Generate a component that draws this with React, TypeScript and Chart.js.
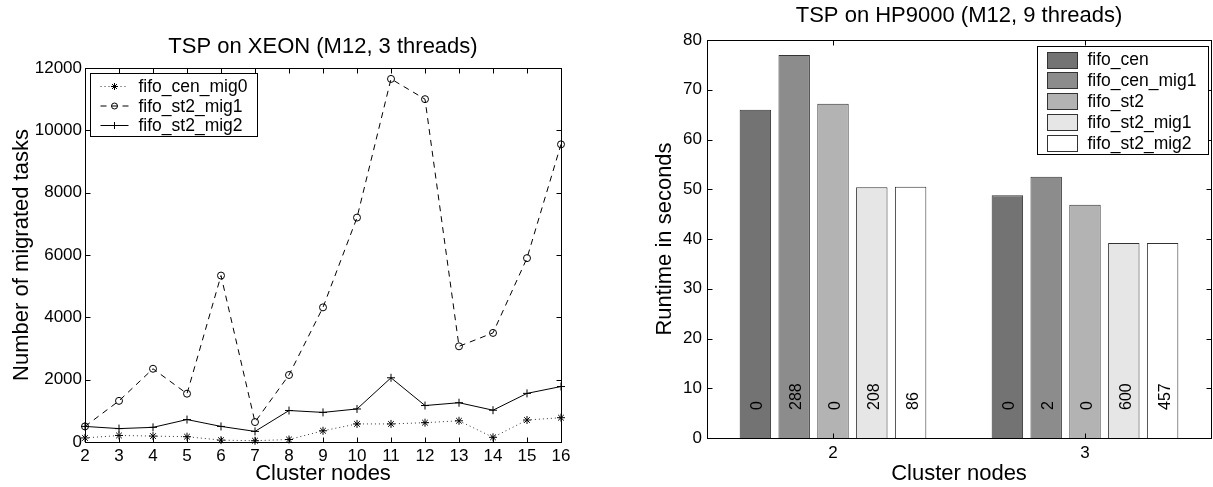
import React, { useEffect, useRef } from 'react';
import { Chart, registerables } from 'chart.js';

Chart.register(...registerables);

// ---------- Data: left chart (TSP on XEON) ----------
const nodes = [2, 3, 4, 5, 6, 7, 8, 9, 10, 11, 12, 13, 14, 15, 16];
const fifoCenMig0 = [130, 210, 190, 170, 60, 40, 80, 360, 580, 580, 620, 680, 150, 705, 780];
const fifoSt2Mig1Tasks = [500, 1320, 2350, 1550, 5340, 640, 2150, 4320, 7200, 11650, 11000, 3070, 3500, 5900, 9550];
const fifoSt2Mig2Tasks = [500, 430, 470, 720, 500, 340, 1010, 950, 1060, 2060, 1170, 1260, 1020, 1560, 1780];

// ---------- Data: right chart (TSP on HP9000) ----------
const clusterNodes = ['2', '3'];
const fifoCen = [66.0, 48.8];
const fifoCenMig1 = [77.0, 52.5];
const fifoSt2 = [67.2, 46.9];
const fifoSt2Mig1 = [50.4, 39.2];
const fifoSt2Mig2 = [50.5, 39.2];
// migrated task counts printed inside bars
const fifoCenMigrations = [0, 0];
const fifoCenMig1Migrations = [288, 2];
const fifoSt2Migrations = [0, 0];
const fifoSt2Mig1Migrations = [208, 600];
const fifoSt2Mig2Migrations = [86, 457];

const FONT = '"Liberation Sans", Arial, Helvetica, sans-serif';

Chart.defaults.font.family = FONT;
Chart.defaults.color = '#000';

function drawMarker(ctx: CanvasRenderingContext2D, style: string, x: number, y: number, r: number) {
  ctx.beginPath();
  if (style === 'circle') {
    ctx.arc(x, y, r, 0, Math.PI * 2);
  } else if (style === 'cross') {
    ctx.moveTo(x - r, y); ctx.lineTo(x + r, y);
    ctx.moveTo(x, y - r); ctx.lineTo(x, y + r);
  } else if (style === 'star') {
    ctx.moveTo(x - r, y); ctx.lineTo(x + r, y);
    ctx.moveTo(x, y - r); ctx.lineTo(x, y + r);
    const d = r * 0.7071;
    ctx.moveTo(x - d, y - d); ctx.lineTo(x + d, y + d);
    ctx.moveTo(x - d, y + d); ctx.lineTo(x + d, y - d);
  }
  ctx.stroke();
}

// MATLAB-like frame with inward ticks on all four sides
const framePlugin = {
  id: 'matlabFrame',
  afterDatasetsDraw(chart: any) {
    const { ctx, chartArea: a, scales } = chart;
    const len = 5;
    const L = Math.round(a.left) + 0.5, R = Math.round(a.right) + 0.5;
    const T = Math.round(a.top) + 0.5, B = Math.round(a.bottom) + 0.5;
    ctx.save();
    ctx.strokeStyle = '#000';
    ctx.lineWidth = 1;
    ctx.setLineDash([]);
    ctx.strokeRect(L, T, R - L, B - T);
    ctx.beginPath();
    const xs = scales.x, ys = scales.y;
    xs.ticks.forEach((_t: any, i: number) => {
      const px = Math.round(xs.getPixelForTick(i)) + 0.5;
      ctx.moveTo(px, B); ctx.lineTo(px, B - len);
      ctx.moveTo(px, T); ctx.lineTo(px, T + len);
    });
    ys.ticks.forEach((_t: any, i: number) => {
      const py = Math.round(ys.getPixelForTick(i)) + 0.5;
      ctx.moveTo(L, py); ctx.lineTo(L + len, py);
      ctx.moveTo(R, py); ctx.lineTo(R - len, py);
    });
    ctx.stroke();
    ctx.restore();
  },
};

// Legend for line chart: line sample + marker, box at top-left of plot
const lineLegendPlugin = {
  id: 'lineLegend',
  afterDraw(chart: any) {
    const { ctx, chartArea: a } = chart;
    const ds = chart.data.datasets;
    ctx.save();
    ctx.font = `17.5px ${FONT}`;
    let maxW = 0;
    ds.forEach((d: any) => { maxW = Math.max(maxW, ctx.measureText(d.label).width); });
    const bx = Math.round(a.left) + 5.5, by = Math.round(a.top) + 5.5;
    const bw = Math.round(48 + maxW + 10), bh = 63;
    ctx.fillStyle = '#fff';
    ctx.fillRect(bx, by, bw, bh);
    ctx.strokeStyle = '#000';
    ctx.lineWidth = 1;
    ctx.strokeRect(bx, by, bw, bh);
    ds.forEach((d: any, i: number) => {
      const cy = by + 13 + i * 19.5;
      ctx.strokeStyle = d.borderColor;
      ctx.lineWidth = d.borderWidth;
      ctx.setLineDash(d.borderDash || []);
      ctx.beginPath();
      ctx.moveTo(bx + 10, cy); ctx.lineTo(bx + 38, cy);
      ctx.stroke();
      ctx.setLineDash([]);
      ctx.strokeStyle = '#000';
      ctx.lineWidth = 1;
      drawMarker(ctx, d.pointStyle, bx + 24, cy, d.pointStyle === 'circle' ? 3 : 3.5);
      ctx.fillStyle = '#000';
      ctx.textBaseline = 'middle';
      ctx.textAlign = 'left';
      ctx.fillText(d.label, bx + 48, cy + 1);
    });
    ctx.restore();
  },
};

// Legend for bar chart: filled swatches, box at top-right of plot
const barLegendPlugin = {
  id: 'barLegend',
  afterDraw(chart: any) {
    const { ctx, chartArea: a } = chart;
    const ds = chart.data.datasets;
    ctx.save();
    ctx.font = `17.5px ${FONT}`;
    let maxW = 0;
    ds.forEach((d: any) => { maxW = Math.max(maxW, ctx.measureText(d.label).width); });
    const bw = Math.round(50 + maxW + 12), bh = 108;
    const bx = Math.round(a.right) - 3 - bw + 0.5, by = Math.round(a.top) + 6.5;
    ctx.fillStyle = '#fff';
    ctx.fillRect(bx, by, bw, bh);
    ctx.strokeStyle = '#000';
    ctx.lineWidth = 1;
    ctx.strokeRect(bx, by, bw, bh);
    ds.forEach((d: any, i: number) => {
      const cy = by + 13 + i * 20.8;
      ctx.fillStyle = d.backgroundColor;
      ctx.fillRect(bx + 10, Math.round(cy - 8) + 0.5, 30, 16);
      ctx.strokeStyle = d.borderColor;
      ctx.strokeRect(bx + 10, Math.round(cy - 8) + 0.5, 30, 16);
      ctx.fillStyle = '#000';
      ctx.textBaseline = 'middle';
      ctx.textAlign = 'left';
      ctx.fillText(d.label, bx + 50, cy + 1);
    });
    ctx.restore();
  },
};

// Rotated migration counts inside the bars
const barCountPlugin = {
  id: 'barCounts',
  afterDatasetsDraw(chart: any) {
    const { ctx } = chart;
    const y0 = chart.scales.y.getPixelForValue(0);
    chart.data.datasets.forEach((d: any, di: number) => {
      const meta = chart.getDatasetMeta(di);
      meta.data.forEach((bar: any, i: number) => {
        ctx.save();
        ctx.translate(bar.x + 7, y0 - 28);
        ctx.rotate(-Math.PI / 2);
        ctx.font = `16px ${FONT}`;
        ctx.fillStyle = '#000';
        ctx.textAlign = 'left';
        ctx.textBaseline = 'alphabetic';
        ctx.fillText(String(d.migrations[i]), 0, 0);
        ctx.restore();
      });
    });
  },
};

const plainTick = (v: any) => String(v);

export default function App() {
  const leftRef = useRef<HTMLCanvasElement | null>(null);
  const rightRef = useRef<HTMLCanvasElement | null>(null);

  useEffect(() => {
    const toPts = (vals: number[]) => nodes.map((n, i) => ({ x: n, y: vals[i] }));

    const left = new Chart(leftRef.current as HTMLCanvasElement, {
      type: 'line',
      data: {
        datasets: [
          {
            label: 'fifo_cen_mig0',
            data: toPts(fifoCenMig0),
            borderColor: '#333',
            borderWidth: 1,
            borderDash: [1, 3],
            pointStyle: 'star',
            pointRadius: 4,
            pointBorderColor: '#000',
            pointBackgroundColor: '#000',
            pointBorderWidth: 1,
            clip: false,
          } as any,
          {
            label: 'fifo_st2_mig1',
            data: toPts(fifoSt2Mig1Tasks),
            borderColor: '#000',
            borderWidth: 1,
            borderDash: [6, 5],
            pointStyle: 'circle',
            pointRadius: 3.5,
            pointBorderColor: '#000',
            pointBackgroundColor: 'rgba(0,0,0,0)',
            pointBorderWidth: 1,
            clip: false,
          } as any,
          {
            label: 'fifo_st2_mig2',
            data: toPts(fifoSt2Mig2Tasks),
            borderColor: '#000',
            borderWidth: 1,
            borderDash: [],
            pointStyle: 'cross',
            pointRadius: 4,
            pointBorderColor: '#000',
            pointBorderWidth: 1,
            clip: false,
          } as any,
        ],
      },
      options: {
        animation: false,
        responsive: false,
        events: [],
        layout: { padding: { left: 0, right: 69, top: 0, bottom: 0 } },
        plugins: {
          legend: { display: false },
          tooltip: { enabled: false },
          title: {
            display: true,
            fullSize: false,
            text: 'TSP on XEON (M12, 3 threads)',
            font: { size: 22, weight: 'normal', lineHeight: 1 },
            padding: { top: 35.5, bottom: 10.5 },
            color: '#000',
          },
        },
        scales: {
          x: {
            type: 'linear',
            min: 2,
            max: 16,
            ticks: { stepSize: 1, padding: 4, font: { size: 17 }, color: '#000', maxRotation: 0, autoSkip: false, callback: plainTick },
            grid: { display: false, drawTicks: false },
            border: { display: false },
            title: { display: true, text: 'Cluster nodes', font: { size: 22, lineHeight: 1 }, padding: { top: 0, bottom: 2 }, color: '#000' },
            afterFit: (s: any) => { s.height = 45; },
          },
          y: {
            min: 0,
            max: 12000,
            ticks: { stepSize: 2000, padding: 3, font: { size: 17 }, color: '#000', callback: plainTick },
            grid: { display: false, drawTicks: false },
            border: { display: false },
            title: { display: true, text: 'Number of migrated tasks', font: { size: 22, lineHeight: 1 }, padding: { top: 11, bottom: 0 }, color: '#000' },
            afterFit: (s: any) => { s.width = 85; },
          },
        },
      } as any,
      plugins: [framePlugin, lineLegendPlugin],
    });

    const barDs = (label: string, data: number[], migrations: number[], bg: string) => ({
      label,
      data,
      migrations,
      backgroundColor: bg,
      borderColor: '#333',
      borderWidth: 1,
      categoryPercentage: 0.77,
      barPercentage: 0.81,
    });

    const right = new Chart(rightRef.current as HTMLCanvasElement, {
      type: 'bar',
      data: {
        labels: clusterNodes,
        datasets: [
          barDs('fifo_cen', fifoCen, fifoCenMigrations, '#737373'),
          barDs('fifo_cen_mig1', fifoCenMig1, fifoCenMig1Migrations, '#8c8c8c'),
          barDs('fifo_st2', fifoSt2, fifoSt2Migrations, '#b3b3b3'),
          barDs('fifo_st2_mig1', fifoSt2Mig1, fifoSt2Mig1Migrations, '#e6e6e6'),
          barDs('fifo_st2_mig2', fifoSt2Mig2, fifoSt2Mig2Migrations, '#ffffff'),
        ] as any,
      },
      options: {
        animation: false,
        responsive: false,
        events: [],
        layout: { padding: { left: 0, right: 2, top: 0, bottom: 0 } },
        plugins: {
          legend: { display: false },
          tooltip: { enabled: false },
          title: {
            display: true,
            fullSize: false,
            text: 'TSP on HP9000 (M12, 9 threads)',
            font: { size: 22, weight: 'normal', lineHeight: 1 },
            padding: { top: 5, bottom: 13 },
            color: '#000',
          },
        },
        scales: {
          x: {
            type: 'category',
            offset: true,
            ticks: { padding: 5, font: { size: 17 }, color: '#000' },
            grid: { display: false, drawTicks: false, offset: false },
            border: { display: false },
            title: { display: true, text: 'Cluster nodes', font: { size: 22, lineHeight: 1 }, padding: { top: 0, bottom: 2 }, color: '#000' },
            afterFit: (s: any) => { s.height = 49; },
          },
          y: {
            min: 0,
            max: 80,
            ticks: { stepSize: 10, padding: 5, font: { size: 17 }, color: '#000', callback: plainTick },
            grid: { display: false, drawTicks: false },
            border: { display: false },
            title: { display: true, text: 'Runtime in seconds', font: { size: 22, lineHeight: 1 }, padding: { top: 24, bottom: 0 }, color: '#000' },
            afterFit: (s: any) => { s.width = 77; },
          },
        },
      } as any,
      plugins: [barCountPlugin, framePlugin, barLegendPlugin],
    });

    return () => {
      left.destroy();
      right.destroy();
    };
  }, []);

  return (
    <div style={{ position: 'fixed', left: 0, top: 0, width: 1213, height: 487, background: '#fff', overflow: 'hidden' }}>
      <div style={{ position: 'absolute', left: 0, top: 0, width: 630, height: 487 }}>
        <canvas ref={leftRef} width={630} height={487} style={{ width: 630, height: 487, display: 'block' }} />
      </div>
      <div style={{ position: 'absolute', left: 630, top: 0, width: 583, height: 487 }}>
        <canvas ref={rightRef} width={583} height={487} style={{ width: 583, height: 487, display: 'block' }} />
      </div>
    </div>
  );
}
